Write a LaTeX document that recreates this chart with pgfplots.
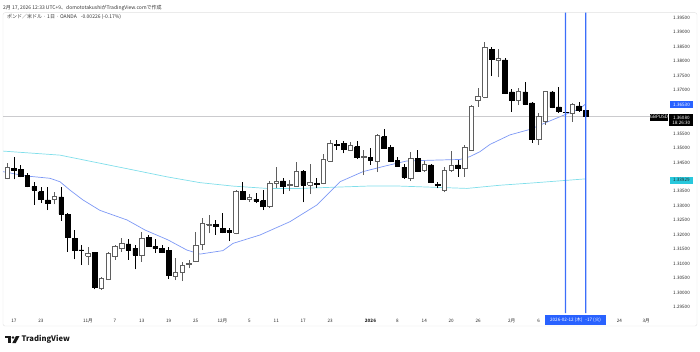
\documentclass[border=0pt]{standalone}
\usepackage{pgfplots}
\usepackage{pgfplotstable}
\pgfplotsset{compat=1.18}
\usepackage{fontspec}
\setmainfont{Noto Sans CJK JP}
\definecolor{tvblue}{RGB}{41,98,255}
\definecolor{lineblue}{RGB}{60,110,250}
\definecolor{emablue}{RGB}{125,152,245}
\definecolor{macyan}{RGB}{128,222,234}
\definecolor{wickgray}{RGB}{95,95,95}
\definecolor{labcyan}{RGB}{40,200,220}
\definecolor{pricegray}{RGB}{175,175,180}
\newcommand{\tvs}{\fontsize{4.6}{5.2}\selectfont}
\newcommand{\tvh}{\fontsize{5.0}{5.6}\selectfont}

\pgfplotstableread{
i o h l c
-1 1.3395 1.3449 1.3391 1.3433
0 1.3430 1.3468 1.3391 1.3424
1 1.3426 1.3441 1.3398 1.3403
2 1.3406 1.3414 1.3364 1.3366
3 1.3366 1.3383 1.3303 1.3355
4 1.3349 1.3364 1.3309 1.3323
5 1.3320 1.3364 1.3285 1.3309
6 1.3323 1.3349 1.3305 1.3331
7 1.3331 1.3364 1.3248 1.3271
8 1.3271 1.3276 1.3141 1.3191
9 1.3188 1.3216 1.3115 1.3147
10 1.3148 1.3164 1.3095 1.3146
11 1.3126 1.3159 1.3095 1.3136
12 1.3138 1.3141 1.3011 1.3018
13 1.3015 1.3055 1.3009 1.3049
14 1.3046 1.3141 1.3043 1.3136
15 1.3124 1.3164 1.3113 1.3159
16 1.3153 1.3188 1.3141 1.3170
17 1.3168 1.3184 1.3113 1.3145
18 1.3153 1.3164 1.3080 1.3130
19 1.3130 1.3210 1.3107 1.3188
20 1.3191 1.3199 1.3159 1.3161
21 1.3159 1.3184 1.3136 1.3152
22 1.3153 1.3164 1.3136 1.3141
23 1.3147 1.3159 1.3047 1.3061
24 1.3055 1.3118 1.3043 1.3069
25 1.3070 1.3105 1.3040 1.3093
26 1.3096 1.3113 1.3084 1.3101
27 1.3107 1.3210 1.3105 1.3162
28 1.3167 1.3257 1.3147 1.3239
29 1.3234 1.3268 1.3205 1.3237
30 1.3236 1.3251 1.3199 1.3228
31 1.3222 1.3274 1.3205 1.3208
32 1.3215 1.3222 1.3178 1.3210
33 1.3205 1.3355 1.3201 1.3351
34 1.3349 1.3381 1.3320 1.3323
35 1.3322 1.3340 1.3314 1.3328
36 1.3323 1.3343 1.3309 1.3316
37 1.3318 1.3355 1.3285 1.3297
38 1.3297 1.3386 1.3293 1.3378
39 1.3378 1.3435 1.3360 1.3383
40 1.3386 1.3397 1.3340 1.3369
41 1.3372 1.3389 1.3351 1.3375
42 1.3368 1.3452 1.3366 1.3418
43 1.3420 1.3424 1.3312 1.3372
44 1.3372 1.3443 1.3340 1.3380
45 1.3378 1.3397 1.3360 1.3374
46 1.3378 1.3478 1.3374 1.3462
47 1.3454 1.3526 1.3452 1.3516
48 1.3513 1.3527 1.3493 1.3508
49 1.3515 1.3524 1.3481 1.3496
50 1.3493 1.3521 1.3489 1.3510
51 1.3504 1.3524 1.3462 1.3466
52 1.3466 1.3493 1.3406 1.3470
53 1.3466 1.3499 1.3441 1.3458
54 1.3452 1.3547 1.3416 1.3542
55 1.3539 1.3565 1.3496 1.3499
56 1.3501 1.3510 1.3450 1.3455
57 1.3458 1.3470 1.3435 1.3438
58 1.3433 1.3443 1.3393 1.3399
59 1.3394 1.3485 1.3386 1.3463
60 1.3464 1.3493 1.3416 1.3420
61 1.3422 1.3455 1.3418 1.3442
62 1.3441 1.3443 1.3378 1.3382
63 1.3374 1.3381 1.3360 1.3372
64 1.3352 1.3435 1.3346 1.3423
65 1.3424 1.3488 1.3418 1.3441
66 1.3441 1.3458 1.3400 1.3430
67 1.3430 1.3510 1.3400 1.3502
68 1.3493 1.3648 1.3490 1.3645
69 1.3663 1.3706 1.3642 1.3677
70 1.3675 1.3867 1.3671 1.3848
71 1.3841 1.3850 1.3748 1.3806
72 1.3801 1.3841 1.3744 1.3810
73 1.3804 1.3810 1.3686 1.3689
74 1.3694 1.3703 1.3625 1.3666
75 1.3663 1.3706 1.3648 1.3694
76 1.3694 1.3729 1.3648 1.3652
77 1.3656 1.3660 1.3518 1.3530
78 1.3530 1.3620 1.3510 1.3608
79 1.3591 1.3698 1.3579 1.3694
80 1.3694 1.3698 1.3637 1.3640
81 1.3642 1.3710 1.3622 1.3625
82 1.3624 1.3668 1.3606 1.3622
83 1.3620 1.3656 1.3591 1.3652
84 1.3645 1.3660 1.3625 1.3631
85 1.3631 1.3634 1.3606 1.3608
}\candles

\pgfplotstableread{
i v
-1.64 1.3418
1.8 1.3403
5.35 1.3395
6.84 1.3383
8.33 1.3354
10.26 1.3320
12.79 1.3284
16.8 1.3251
19.5 1.3216
22.9 1.3182
25.7 1.3147
27.65 1.3133
31.07 1.3145
32.56 1.3170
36.57 1.3199
41.03 1.3245
45.05 1.3303
48.47 1.3383
51.89 1.3418
55.46 1.3439
58.43 1.3455
62.89 1.3458
66.31 1.3460
67.8 1.3470
69.28 1.3487
70.77 1.3512
73.74 1.3545
76.72 1.3564
79.24 1.3589
81.62 1.3612
84.15 1.3636
85 1.3652
}\emaA

\pgfplotstableread{
i v
-1.64 1.3489
6.84 1.3475
12.79 1.3447
17.69 1.3424
22.75 1.3400
27.65 1.3380
32.56 1.3368
37.62 1.3360
42.52 1.3360
47.43 1.3364
52.48 1.3368
57.39 1.3368
62.4 1.3364
67.35 1.3360
72.26 1.3371
77.16 1.3379
85 1.3393
}\emaB

\begin{document}
\begin{tikzpicture}
\path[use as bounding box] (0,0) rectangle (700pt,351pt);
\draw[black!12, rounded corners=2pt] (3pt,25pt) rectangle (697pt,338.3pt);
\begin{axis}[
  at={(3pt,38pt)}, anchor=south west, scale only axis,
  width=665pt, height=300.3pt,
  xmin=-1.635, xmax=97.24, ymin=1.29294, ymax=1.39673,
  axis line style={draw=none},
  tick style={draw=none},
  scaled y ticks=false,
  ytick={1.295,1.300,1.305,1.310,1.315,1.320,1.325,1.330,1.335,1.345,1.350,1.355,1.370,1.375,1.380,1.385,1.390,1.395},
  yticklabel pos=right,
  yticklabel style={anchor=west, inner sep=0pt, xshift=5pt, font=\tvs, text=black!85,
    /pgf/number format/.cd, fixed, fixed zerofill, precision=5, assume math mode=true},
  xtick={0,4,11,15,19,23,27,31,35,39,43,47,53,57,61,65,69,74,78,90,94},
  xticklabels={17,23,11月,7,13,19,25,12月,5,11,17,23,\textbf{2026},8,14,20,26,2月,6,24,3月},
  xticklabel style={anchor=center, inner sep=0pt, yshift=-8pt, font=\tvs, text=black!85},
]
% moving averages
\addplot[color=macyan, line width=0.7pt, mark=none] table[x=i, y=v] {\emaB};
\addplot[color=emablue, line width=0.7pt, mark=none] table[x=i, y=v] {\emaA};
% current price line (thin filled strip at 1.3608)
\addplot[fill=pricegray, draw=none, mark=none] coordinates {(-1.635,1.36072) (97.24,1.36072) (97.24,1.36088) (-1.635,1.36088) (-1.635,1.36072)};
% candles
\pgfplotstablegetrowsof{\candles}
\pgfmathtruncatemacro{\lastrow}{\pgfplotsretval-1}
\pgfplotsforeachungrouped \rowi in {0,...,\lastrow}{%
  \pgfplotstablegetelem{\rowi}{i}\of\candles \edef\ci{\pgfplotsretval}%
  \pgfplotstablegetelem{\rowi}{o}\of\candles \edef\co{\pgfplotsretval}%
  \pgfplotstablegetelem{\rowi}{h}\of\candles \edef\ch{\pgfplotsretval}%
  \pgfplotstablegetelem{\rowi}{l}\of\candles \edef\cl{\pgfplotsretval}%
  \pgfplotstablegetelem{\rowi}{c}\of\candles \edef\cc{\pgfplotsretval}%
  \pgfmathsetmacro{\xa}{\ci-0.34}%
  \pgfmathsetmacro{\xb}{\ci+0.34}%
  \pgfmathtruncatemacro{\up}{\cc>=\co ? 1 : 0}%
  \ifnum\up=1
    \edef\tmp{\noexpand\addplot[draw=wickgray, line width=0.7pt, mark=none] coordinates {(\ci,\cl) (\ci,\ch)};
      \noexpand\addplot[draw=wickgray, fill=white, line width=0.7pt, line join=miter, mark=none] coordinates {(\xa,\co) (\xb,\co) (\xb,\cc) (\xa,\cc) (\xa,\co)};}%
  \else
    \edef\tmp{\noexpand\addplot[draw=black, line width=0.7pt, mark=none] coordinates {(\ci,\cl) (\ci,\ch)};
      \noexpand\addplot[draw=black, fill=black, line width=0.5pt, line join=miter, mark=none] coordinates {(\xa,\co) (\xb,\co) (\xb,\cc) (\xa,\cc) (\xa,\co)};}%
  \fi
  \tmp
}
% vertical date markers (thin filled strips)
\addplot[fill=lineblue, draw=none, mark=none] coordinates {(81.915,1.29294) (82.085,1.29294) (82.085,1.39673) (81.915,1.39673) (81.915,1.29294)};
\addplot[fill=lineblue, draw=none, mark=none] coordinates {(84.915,1.29294) (85.085,1.29294) (85.085,1.39673) (84.915,1.39673) (84.915,1.29294)};
\end{axis}
% header texts
\node[anchor=west, inner sep=0pt, font=\tvh, text=black!80] at (3pt,343.3pt) {2月 17, 2026 12:33 UTC+9、domototakushiがTradingView.comで作成};
\node[anchor=west, inner sep=0pt, font=\tvh, text=black!80] at (7pt,334.3pt) {ポンド／米ドル · 1日 · OANDA\hspace{4pt}-0.00226 (-0.17\%)};
% date box
\node[fill=tvblue, text=white, inner sep=0pt, minimum width=61pt, minimum height=10pt, font=\tvs] at (575.5pt,31pt) {2026-02-12 (木)\hspace{3pt}-17 (火)};
% price labels
\node[fill=tvblue, text=white, inner sep=0pt, minimum width=23pt, minimum height=6.5pt, font=\tvs] at (681.5pt,246.5pt) {1.36530};
\node[fill=black, text=white, inner sep=0pt, minimum width=18pt, minimum height=6.8pt, font=\tvs] at (659pt,233.7pt) {GBPUSD};
\node[fill=black, text=white, inner sep=0pt, minimum width=24pt, minimum height=12pt, font=\tvs, align=center] at (681.3pt,231pt) {1.36080\\18:26:30};
\node[fill=labcyan, text=black!85, inner sep=0pt, minimum width=23pt, minimum height=6.5pt, font=\tvs] at (681.3pt,170.7pt) {1.33929};
% TradingView logo
\fill[black!90] (5pt,12.8pt) rectangle (11pt,15pt);
\fill[black!90] (8pt,8pt) rectangle (11pt,15pt);
\fill[black!90] (13pt,13.6pt) circle (1.4pt);
\fill[black!90] (16pt,15pt) -- (19.5pt,15pt) -- (15.8pt,8pt) -- (12.3pt,8pt) -- cycle;
\node[anchor=west, inner sep=0pt, font=\fontsize{7.6}{8}\selectfont\bfseries, text=black!90] at (21.5pt,11.5pt) {TradingView};
\end{tikzpicture}
\end{document}
